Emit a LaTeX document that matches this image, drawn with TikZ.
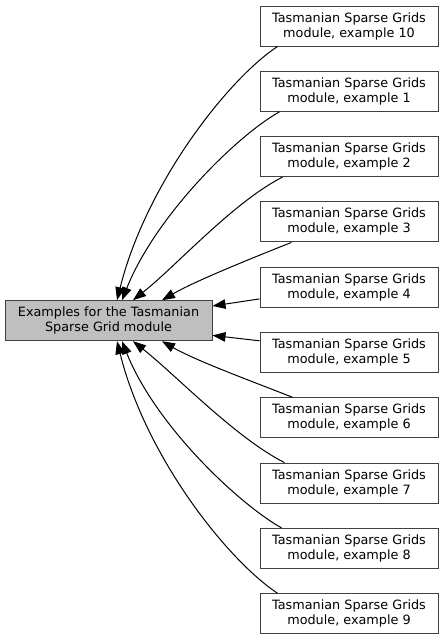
\documentclass[tikz,border=0pt]{standalone}
\usepackage{fontspec}
\setmainfont{DejaVu Sans}
\usetikzlibrary{arrows.meta, positioning}

\begin{document}
\begin{tikzpicture}[
  x=1pt, y=1pt,
  node distance=24.3pt,
  box/.style={rectangle, draw=black!75, line width=1pt, minimum width=178pt, minimum height=40pt, inner sep=0pt, align=center, font=\fontsize{12.8}{15}\selectfont},
  mainbox/.style={box, minimum width=207pt, fill=black!25},
  arrow/.style={-{Triangle[length=13pt, width=9.5pt]}, line width=1pt}
]
\useasboundingbox (0,0) rectangle (444,-640);

\node[mainbox] (main) at (108.5,-320.7) {Examples for the Tasmanian\\Sparse Grid module};
\node[box] (ex10) at (349,-26) {Tasmanian Sparse Grids\\module, example 10};
\node[box, below=of ex10] (ex1) {Tasmanian Sparse Grids\\module, example 1};
\node[box, below=of ex1] (ex2) {Tasmanian Sparse Grids\\module, example 2};
\node[box, below=of ex2] (ex3) {Tasmanian Sparse Grids\\module, example 3};
\node[box, below=of ex3] (ex4) {Tasmanian Sparse Grids\\module, example 4};
\node[box, below=of ex4] (ex5) {Tasmanian Sparse Grids\\module, example 5};
\node[box, below=of ex5] (ex6) {Tasmanian Sparse Grids\\module, example 6};
\node[box, below=of ex6] (ex7) {Tasmanian Sparse Grids\\module, example 7};
\node[box, below=of ex7] (ex8) {Tasmanian Sparse Grids\\module, example 8};
\node[box, below=of ex8] (ex9) {Tasmanian Sparse Grids\\module, example 9};

% upper examples
\draw[arrow] ([xshift=18pt]ex10.south west) .. controls +(-50,-33) and +(29,116) .. ([xshift=8.5pt]main.north);
\draw[arrow] ([xshift=20pt]ex1.south west) .. controls +(-43.5,-24.5) and +(33.3,83.7) .. ([xshift=13.5pt]main.north);
\draw[arrow] ([xshift=23pt]ex2.south west) .. controls +(-49,-24.8) and +(43,34) .. ([xshift=24.5pt]main.north);
\draw[arrow] ([xshift=32pt]ex3.south west) .. controls +(-37.2,-14.8) and +(34.8,20) .. ([xshift=53.5pt]main.north);
\draw[arrow] ([yshift=-11.7pt]ex4.west) -- ([yshift=14.7pt]main.east);

% lower examples
\draw[arrow] ([yshift=11.7pt]ex5.west) -- ([yshift=-14.7pt]main.east);
\draw[arrow] ([xshift=33pt]ex6.north west) .. controls +(-37.2,14.8) and +(34.8,-20) .. ([xshift=53.5pt]main.south);
\draw[arrow] ([xshift=25pt]ex7.north west) .. controls +(-49,24.8) and +(43,-34) .. ([xshift=24.5pt]main.south);
\draw[arrow] ([xshift=22pt]ex8.north west) .. controls +(-43.5,24.5) and +(33.3,-83.7) .. ([xshift=13.5pt]main.south);
\draw[arrow] ([xshift=18pt]ex9.north west) .. controls +(-50,33) and +(29,-116) .. ([xshift=8.5pt]main.south);

\end{tikzpicture}
\end{document}
